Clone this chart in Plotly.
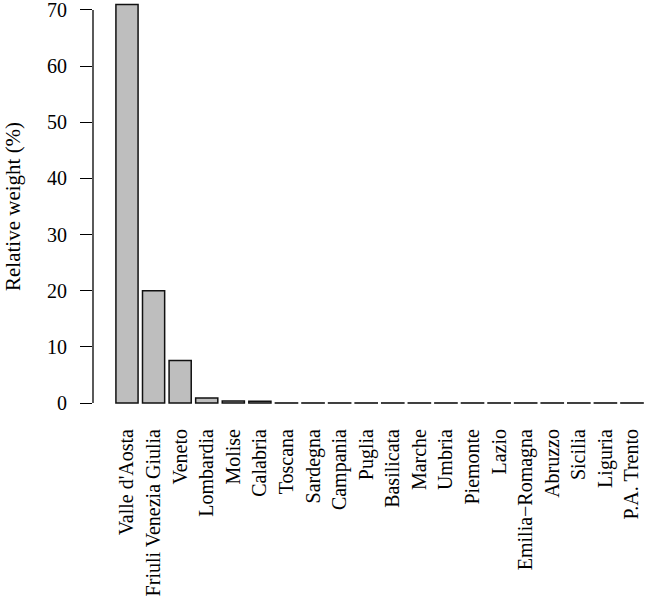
import plotly.graph_objects as go

regions = ["Valle d'Aosta", "Friuli Venezia Giulia", "Veneto", "Lombardia", "Molise",
           "Calabria", "Toscana", "Sardegna", "Campania", "Puglia", "Basilicata",
           "Marche", "Umbria", "Piemonte", "Lazio", "Emilia\u2212Romagna", "Abruzzo",
           "Sicilia", "Liguria", "P.A. Trento"]
weights = [71.0, 20.0, 7.6, 0.9, 0.35, 0.3, 0.02, 0.02, 0.02, 0.02, 0.02,
           0.02, 0.02, 0.02, 0.02, 0.02, 0.02, 0.02, 0.02, 0.02]
y_ticks = [0, 10, 20, 30, 40, 50, 60, 70]

FONT = "Liberation Serif"
FS = 20
W, H = 646, 599
ML, MB = 93, 180
PW, PH = W - ML, H - MB

fig = go.Figure(go.Bar(
    x=regions, y=weights,
    marker=dict(color="#BEBEBE", line=dict(color="#111111", width=1.5)),
))

fig.update_layout(
    width=W, height=H,
    margin=dict(l=ML, r=0, t=0, b=MB),
    paper_bgcolor="white", plot_bgcolor="white",
    bargap=1 - 1 / 1.2,
    showlegend=False,
    font=dict(family=FONT, size=FS, color="black"),
    xaxis=dict(
        type="category",
        range=[-1.279, 19.527],
        showgrid=False, zeroline=False, showline=False,
        ticks="", tickangle=-90, ticklabelstandoff=5,
        tickfont=dict(family=FONT, size=FS, color="black"),
        automargin=False,
    ),
    yaxis=dict(
        range=[-2.84, 71.78],
        tickvals=y_ticks, ticktext=[str(v) for v in y_ticks],
        showgrid=False, zeroline=False, showline=False,
        ticks="outside", ticklen=12, tickwidth=1.3, tickcolor="black",
        ticklabelstandoff=9, ticklabeloverflow="allow",
        tickfont=dict(family=FONT, size=FS, color="black"),
        automargin=False,
    ),
    shapes=[dict(type="line", xref="paper", yref="y", x0=0, x1=0,
                 y0=y_ticks[0], y1=y_ticks[-1],
                 line=dict(color="black", width=1.3))],
    annotations=[dict(text="Relative weight (%)", textangle=-90,
                      xref="paper", yref="paper",
                      x=-(ML - 13) / PW, y=1 - 207 / PH,
                      xanchor="center", yanchor="middle", showarrow=False,
                      font=dict(family=FONT, size=FS + 1, color="black"))],
)

fig.write_html("out.html",
               config={"displayModeBar": False},
               post_script="document.body.style.margin='0';document.body.style.overflow='hidden';")
